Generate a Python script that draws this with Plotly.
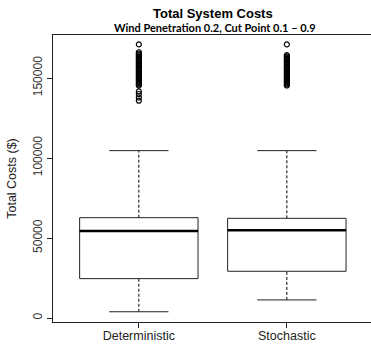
import plotly.graph_objects as go

categories = ["Deterministic", "Stochastic"]
q1 = [24600, 29200]
median = [54400, 54800]
q3 = [62700, 62300]
lower_whisker = [3900, 11300]
upper_whisker = [104600, 104600]
outliers = [
    [171000, 166100, 165300, 164400, 163600, 162900, 162000, 161300, 160400, 159700,
     158800, 158000, 157300, 156400, 155700, 154800, 154100, 153200, 152400, 151700,
     150800, 150100, 149200, 148500, 147600, 146900, 146000, 145300, 141600, 140000,
     137800, 135800],
    [171000, 164300, 163500, 162700, 161900, 161100, 160300, 159500, 158700, 157900,
     157100, 156300, 155500, 154700, 153900, 153100, 152300, 151500, 150700, 149900,
     149100, 148300, 147500, 146700, 145900, 145300],
]
y_tick_vals = [0, 50000, 100000, 150000]

BOX_HALF = 0.4
CAP_HALF = 0.2
FONT = "Liberation Sans, Arial, sans-serif"

fig = go.Figure()
for i, cat in enumerate(categories):
    x = i + 1
    for lo, hi in ((q3[i], upper_whisker[i]), (lower_whisker[i], q1[i])):
        fig.add_trace(go.Scatter(x=[x, x], y=[lo, hi], mode="lines",
                                 line=dict(color="black", width=1, dash="3px,2px"),
                                 showlegend=False, hoverinfo="skip"))
    for w in (upper_whisker[i], lower_whisker[i]):
        fig.add_trace(go.Scatter(x=[x - CAP_HALF, x + CAP_HALF], y=[w, w], mode="lines",
                                 line=dict(color="#222", width=1),
                                 showlegend=False, hoverinfo="skip"))
    fig.add_trace(go.Scatter(
        x=[x - BOX_HALF, x + BOX_HALF, x + BOX_HALF, x - BOX_HALF, x - BOX_HALF],
        y=[q1[i], q1[i], q3[i], q3[i], q1[i]], mode="lines", fill="toself",
        fillcolor="white", line=dict(color="#222", width=1),
        showlegend=False, hoverinfo="skip"))
    fig.add_trace(go.Scatter(x=[x - BOX_HALF, x + BOX_HALF], y=[median[i], median[i]],
                             mode="lines", line=dict(color="black", width=2.5),
                             showlegend=False, hoverinfo="skip"))
    fig.add_trace(go.Scatter(x=[x] * len(outliers[i]), y=outliers[i], mode="markers",
                             marker=dict(symbol="circle-open", size=5, color="black",
                                         line=dict(width=1.2, color="black")),
                             showlegend=False, hoverinfo="skip"))

L, R, T, B, W, H = 53, 0, 35, 22, 371, 344
pw, ph = W - L - R, H - T - B


def px_to_paper(xp, yp):
    return (xp - L) / pw, (H - B - yp) / ph


ax, ay = px_to_paper(213, 14)
bx, by = px_to_paper(215, 28)

fig.update_layout(
    width=W, height=H,
    margin=dict(l=L, r=R, t=T, b=B, pad=0),
    paper_bgcolor="white", plot_bgcolor="white",
    font=dict(family=FONT, size=12, color="#222"),
    xaxis=dict(range=[0.42, 2.5686], tickvals=[1, 2], ticktext=categories,
               showgrid=False, zeroline=False, showline=True, linecolor="#222",
               linewidth=1, mirror=True, ticks="outside", ticklen=5, tickcolor="#222",
               automargin=False, ticklabelstandoff=-3,
               tickfont=dict(size=12.5, family=FONT, color="#222")),
    yaxis=dict(range=[-2500, 176875], tickvals=y_tick_vals,
               ticktext=[str(v) for v in y_tick_vals], tickangle=-90,
               showgrid=False, zeroline=False, showline=True, linecolor="#222",
               linewidth=1, ticks="outside", ticklen=5, tickcolor="#222",
               automargin=False,
               tickfont=dict(size=12, family=FONT, color="#333"),
               title=dict(text="Total Costs ($)", font=dict(size=12.5, family=FONT, color="#222"),
                          standoff=11)),
    annotations=[
        dict(text="<b>Total System Costs</b>", x=ax, y=ay, xref="paper", yref="paper",
             showarrow=False, xanchor="center", yanchor="middle",
             font=dict(size=13, family=FONT, color="black")),
        dict(text="<b>Wind Penetration 0.2, Cut Point 0.1 – 0.9</b>", x=bx, y=by,
             xref="paper", yref="paper", showarrow=False, xanchor="center", yanchor="middle",
             font=dict(size=11, family="Lato, Carlito, sans-serif", color="black")),
    ],
)

fig.write_html("out.html", config={"displayModeBar": False},
               post_script="document.body.style.margin='0';")
